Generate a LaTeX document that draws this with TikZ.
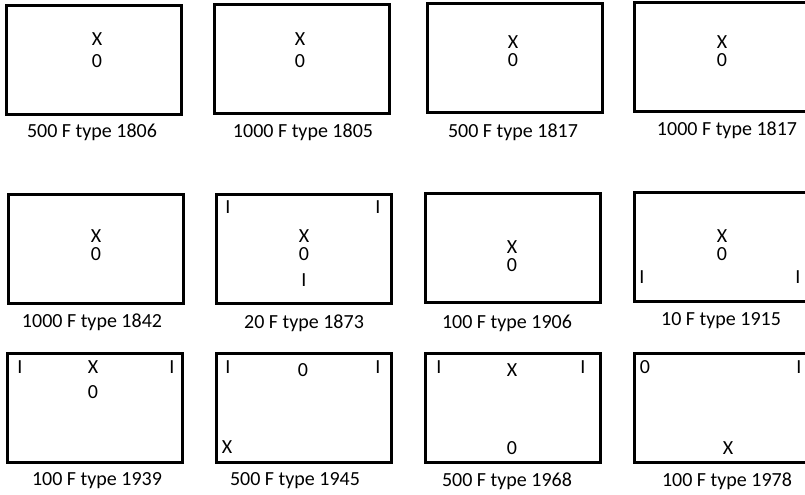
\documentclass[tikz,border=0pt]{standalone}
\usepackage{fontspec}
\setmainfont{Carlito}
\usepackage{tikz}

\begin{document}
\begin{tikzpicture}[x=0.75pt, y=-0.75pt,
    note/.style={draw, line width=2.25pt, minimum width=131.25pt, minimum height=81.75pt, inner sep=0pt, anchor=north west},
    sign/.style={font=\fontsize{15}{18}\selectfont, inner sep=0pt},
    caption/.style={sign, anchor=base}]
        \useasboundingbox (0,0) rectangle (805,495);
        \clip (0,0) rectangle (805,495);

        % First row
        \foreach \n/\x/\y in {1/5/4, 2/213/3, 3/426/2, 4/633/1} {
            \node[note] (box\n) at (\x,\y) {};
        }
        \foreach \n/\x/\y/\t in {1/92/138/500 F type 1806, 2/303/138/1000 F type 1805, 3/513/138/500 F type 1817, 4/727/136/1000 F type 1817} {
            \node[caption] (cap\n) at (\x,\y) {\t};
        }
        \foreach \n/\x/\y/\s in {1x/97/39/X, 1o/97/61/0, 2x/300/39/X, 2o/300/61/0, 3x/513/42/X, 3o/513/60/0, 4x/722/42/X, 4o/722/60/0} {
            \node[sign] (s\n) at (\x,\y) {\s};
        }

        % Second row
        \foreach \n/\x/\y in {5/7/193, 6/215/193, 7/424/192, 8/633/191} {
            \node[note] (box\n) at (\x,\y) {};
        }
        \foreach \n/\x/\y/\t in {5/92/327/1000 F type 1842, 6/304/328/20 F type 1873, 7/507/328/100 F type 1906, 8/721/325/10 F type 1915} {
            \node[caption] (cap\n) at (\x,\y) {\t};
        }
        \foreach \n/\x/\y/\s in {5x/96/236/X, 5o/96/254/0,
                6a/228/207/I, 6b/378/207/I, 6x/304/236/X, 6o/304/254/0, 6c/304/280/I,
                7x/512/247/X, 7o/512/265/0,
                8x/722/236/X, 8o/722/254/0, 8a/642/277/I, 8b/798/277/I} {
            \node[sign] (s\n) at (\x,\y) {\s};
        }

        % Third row
        \foreach \n/\x/\y in {9/6/352, 10/215/352, 11/424/352, 12/633/352} {
            \node[note] (box\n) at (\x,\y) {};
        }
        \foreach \n/\x/\y/\t in {9/97/485/100 F type 1939, 10/295/485/500 F type 1945, 11/507/486/500 F type 1968, 12/727/486/100 F type 1978} {
            \node[caption] (cap\n) at (\x,\y) {\t};
        }
        \foreach \n/\x/\y/\s in {9a/20/367/I, 9x/93/367/X, 9b/172/367/I, 9o/93/392/0,
                10a/228/367/I, 10o/303/370/0, 10b/378/367/I, 10x/227/447/X,
                11a/439/367/I, 11x/512/370/X, 11b/583/367/I, 11o/512/448/0,
                12o/645/367/0, 12a/799/367/I, 12x/728/448/X} {
            \node[sign] (s\n) at (\x,\y) {\s};
        }
    \end{tikzpicture}
\end{document}
